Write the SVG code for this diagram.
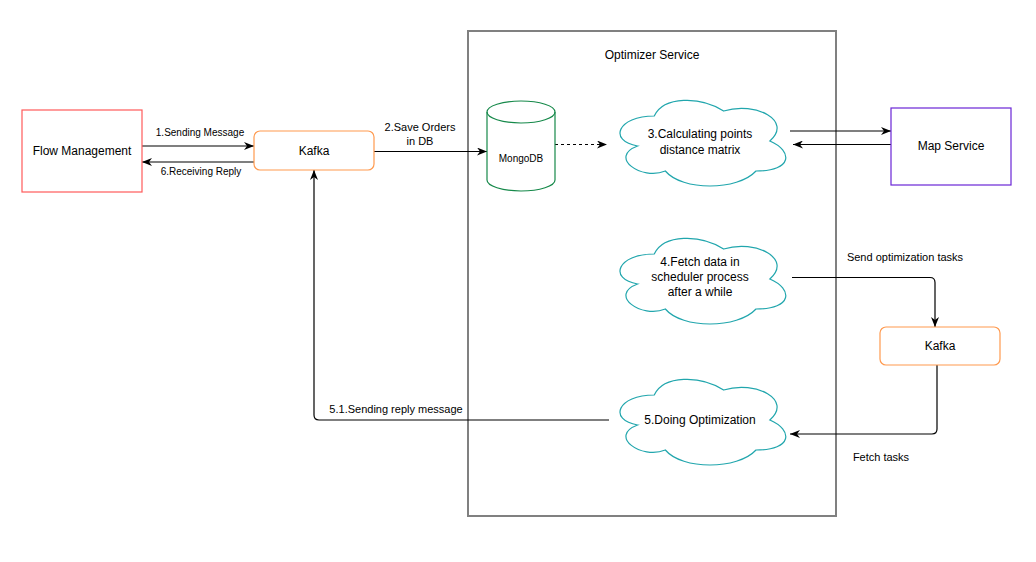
<svg xmlns="http://www.w3.org/2000/svg" width="1036" height="562" viewBox="0 0 1036 562">
<style>
text{font-family:"Liberation Sans",Arial,Helvetica,sans-serif;fill:#000;text-anchor:middle}
.n{font-size:12px}
.e{font-size:11px}
.s{font-size:10px}
.cloud{fill:#fff;stroke:#21A6AD;stroke-width:1.2}
.kafka{fill:#fff;stroke:#FF9A4F;stroke-width:1.2}
.ln{fill:none;stroke:#000;stroke-width:1.2}
</style>
<defs>
<marker id="arr" markerUnits="userSpaceOnUse" viewBox="0 0 10 8" refX="10" refY="4" markerWidth="10" markerHeight="8" orient="auto">
<path d="M0,0 L10,4 L0,8 L3,4 z" fill="#000"/>
</marker>
<path id="cloudShape" d="M46.25,25 C9.25,25 0,50 29.6,55 C0,66 33.3,90 57.35,80 C74,100 129.5,100 148,80 C185,80 185,60 161.875,50 C185,30 148,10 115.625,20 C92.5,5 55.5,5 46.25,25 Z"/>
</defs>
<rect width="1036" height="562" fill="#fff"/>

<g id="optimizer-service">
<rect x="468" y="31" width="368" height="485" fill="none" stroke="#808080" stroke-width="2"/>
<text class="n" x="652" y="59">Optimizer Service</text>
</g>

<g id="connectors">
<line class="ln" x1="142" y1="146" x2="254" y2="146" marker-end="url(#arr)"/>
<text class="s" x="200" y="135.5">1.Sending Message</text>
<line class="ln" x1="254" y1="162" x2="142" y2="162" marker-end="url(#arr)"/>
<text class="s" x="201" y="174.5">6.Receiving Reply</text>
<line class="ln" x1="374" y1="151.5" x2="487" y2="151.5" marker-end="url(#arr)"/>
<text class="e" x="420" y="131">2.Save Orders</text>
<text class="e" x="420" y="145">in DB</text>
<line class="ln" x1="555" y1="144.5" x2="607" y2="144.5" stroke-dasharray="3,3" marker-end="url(#arr)"/>
<line class="ln" x1="790" y1="131" x2="891" y2="131" marker-end="url(#arr)"/>
<line class="ln" x1="891" y1="144.5" x2="793" y2="144.5" marker-end="url(#arr)"/>
<path class="ln" d="M792,277.5 H930 Q935,277.5 935,282.5 V327" marker-end="url(#arr)"/>
<text class="e" x="905" y="261">Send optimization tasks</text>
<path class="ln" d="M937,365 V429 Q937,434 932,434 H790" marker-end="url(#arr)"/>
<text class="e" x="881" y="461">Fetch tasks</text>
<path class="ln" d="M609,420 H319 Q314,420 314,415 V170" marker-end="url(#arr)"/>
<text class="e" x="396" y="413">5.1.Sending reply message</text>
</g>

<g id="flow-management">
<rect x="22" y="110" width="120" height="82" fill="#fff" stroke="#FF5A5A" stroke-width="1.2"/>
<text class="n" x="82" y="155">Flow Management</text>
</g>

<g id="kafka-1">
<rect class="kafka" x="254" y="131" width="120" height="39" rx="6"/>
<text class="n" x="314" y="155">Kafka</text>
</g>

<g id="mongodb">
<path d="M487,112 A34,11 0 0 1 555,112 V180 A34,11 0 0 1 487,180 Z" fill="#fff" stroke="#16894A" stroke-width="1.2"/>
<path d="M487,112 A34,11 0 0 0 555,112" fill="none" stroke="#16894A" stroke-width="1.2"/>
<text class="s" x="521" y="161.5">MongoDB</text>
</g>

<g id="cloud-calc">
<use href="#cloudShape" class="cloud" transform="translate(608,91)"/>
<text class="n" x="700" y="138">3.Calculating points</text>
<text class="n" x="700" y="154">distance matrix</text>
</g>

<g id="map-service">
<rect x="891" y="108" width="120" height="77" fill="#fff" stroke="#6A25D6" stroke-width="1.2"/>
<text class="n" x="951" y="150">Map Service</text>
</g>

<g id="cloud-fetch">
<use href="#cloudShape" class="cloud" transform="translate(608,229)"/>
<text class="n" x="700" y="266">4.Fetch data in</text>
<text class="n" x="700" y="281">scheduler process</text>
<text class="n" x="700" y="296">after a while</text>
</g>

<g id="kafka-2">
<rect class="kafka" x="880" y="327" width="120" height="38" rx="6"/>
<text class="n" x="940" y="350">Kafka</text>
</g>

<g id="cloud-optimize">
<use href="#cloudShape" class="cloud" transform="translate(608,370)"/>
<text class="n" x="700" y="424">5.Doing Optimization</text>
</g>
</svg>
